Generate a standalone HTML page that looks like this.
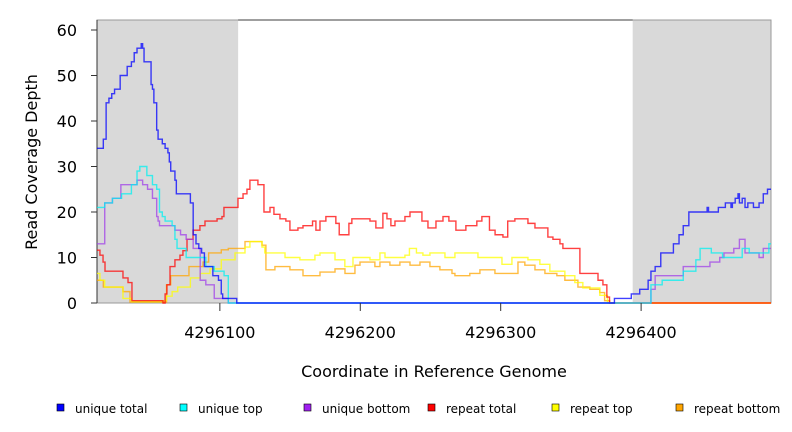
<!DOCTYPE html>
<html><head><meta charset="utf-8"><style>
body{margin:0;background:#fff;font-family:"Liberation Sans","DejaVu Sans",sans-serif}
svg{display:block}
</style></head><body>
<svg id="chart" width="792" height="432" viewBox="0 0 792 432" xmlns="http://www.w3.org/2000/svg" font-family="DejaVu Sans, Liberation Sans, sans-serif">
</svg>
<script>
const xTicks=[4296100,4296200,4296300,4296400];
const yTicks=[0,10,20,30,40,50,60];
const shadeLeft=[4296012.5,4296113];
const shadeRight=[4296394,4296492.5];
const B=4296000;
const utPos=[12.5,17,19,21,23,25,29,34,37,39,41,44,45,46,51,52,53,55,56,59,61,63,64,65,68,69,79,81,83,85,87,89,95,99,101,102,112,381,393,399,405,407,410,414,423,427,430,434,447,448,455,460,464,465,467,469,470,472,474,476,480,484,487,490];
const utVal=[34,36,44,45,46,47,50,52,53,55,56,57,56,53,48,47,44,38,36,35,34,33,31,29,27,24,22,15,13,12,11,8,6,5,2,1,0,1,2,3,5,7,8,11,13,15,17,20,21,20,21,22,21,22,23,24,22,23,21,22,21,22,24,25];
const ucPos=[12.5,18,23.5,30,37,41,43,48,52,55,57,59,61,66,68,69.5,76,90,96,103,106,407,415,430,439,442,450,458,472,477,491];
const ucVal=[21,22,23,24,26,29,30,28,26,25,20,19,18,17,14,12,10,8,7,6,0,4,5,7,9.5,12,11,10,12,11,13];
const ubPos=[12.5,18,23.5,29.5,41,45,48.5,52,55,56,57,68,72,76,81,86,90,96,106,407,410,430,449,456,459,466,470,474,484,487];
const ubVal=[13,22,23,26,27,26,25,23,19,18,17,16,15,14,12,5,4,1,0,3,6,8,9,10,11,12,14,11,10,12];
const rtPos=[12.5,14.6,16.8,18.2,31,34.6,37.4,59.5,61,62.3,64.5,68,71.6,73.7,76.6,80.9,85.8,89.4,98,101.5,102.9,112.9,116.5,119.3,121.4,127.1,131.4,135.7,138.5,142.8,147,149.9,155.6,159.2,166,168.4,171.3,175.5,182.6,185,191.9,194,206.9,211.1,216.1,219,221.8,224.7,231.8,235.4,243.9,248.2,253.9,258.9,263.1,268.1,275.2,283,286.6,292,296,301.6,305,310.1,319.4,324.4,333.6,337.2,342.2,344.3,356.4,369.3,372.8,375.6,377.5];
const rtVal=[11.6,10.5,9,7,5.5,4.5,0.5,0,2,4,8,9.5,10.5,11.5,14,16,17,18,18.5,19,21,23,24,25,27,26,20,21,19.5,18.5,18,16,16.5,17,18,16,18,19,17.5,15,17.5,18.5,18,16.5,19.7,18.5,17,18,19,20,18,16.5,18,19,18,16,17,18,19,16,15,14.5,18,18.5,17.5,16.5,14.5,14,13,12,6.5,5,4,1.3,0];
const ytPos=[12.5,14.6,18,31,37,58,62,66,70,79,86,93,101,110.8,117.9,121.4,130,132,146.4,157,167.7,171.3,182,189,194.8,206.9,214,217.6,231.8,235,240,244.6,249.6,260.3,267.4,283.8,300.9,308,319.4,327.9,335,345.7,352.8,358.5,370.6,376];
const ytVal=[6.5,5,3.5,1,0.3,0.5,1.5,2.5,3.5,5.5,6.5,7.5,9.5,11,12.3,13.5,12.3,11,10,9.5,10.5,11,9.5,8,10,9.5,11,10,10.5,12,11,10.5,11,10,11,10,8.5,10,9.5,8.5,7,6,4.5,3.3,1.7,0];
const rbPos=[12.5,17,31,36,62,65,78,88,92,101,106,117.9,130,132.8,139.2,149.9,159.2,171.3,182,189.1,196.2,199.8,210.4,214,221.1,228.2,235.4,242.5,249.6,256.7,265.3,267.4,278,285.2,295.9,312.3,317.2,324.4,331.5,340,345.7,355,363.5,370.6,374,377.6];
const rbVal=[5,3.5,2.5,0.2,4,6,8,9,11,11.7,12,13.5,12.7,7.3,8,7.3,6,6.8,7.5,6.5,8.3,9,8,9,8.3,9,8.3,9,8,7.3,6.5,6,6.5,7.3,6.5,9,8.3,7.3,6.5,6,5,3.5,3,2.3,0.5,0];

const L=97,R=771,T=20,Bt=303;
const xMin=4296012.5,xMax=4296492.5;
const X=v=>L+(v-xMin)/(xMax-xMin)*(R-L);
const Y=v=>Bt-v*(Bt-30)/60;
const NS='http://www.w3.org/2000/svg';
const svg=document.getElementById('chart');
function mk(tag,attrs,parent){const e=document.createElementNS(NS,tag);for(const k in attrs)e.setAttribute(k,attrs[k]);(parent||svg).appendChild(e);return e;}

const plot=mk('g',{});


const s1=mk('rect',{x:X(shadeLeft[0]),y:T,width:X(shadeLeft[1])-X(shadeLeft[0]),height:Bt-T,fill:'#d9d9d9'},plot);


const s2=mk('rect',{x:X(shadeRight[0]),y:T,width:X(shadeRight[1])-X(shadeRight[0]),height:Bt-T,fill:'#d9d9d9'},plot);


const fr=mk('rect',{x:L,y:T,width:R-L,height:Bt-T,fill:'none',stroke:'#999','stroke-width':1},plot);


mk('line',{x1:X(shadeLeft[1]),x2:X(shadeRight[0]),y1:T,y2:T,stroke:'#666','stroke-width':1.2},plot);
mk('line',{x1:L,x2:L,y1:T,y2:Bt,stroke:'#333','stroke-width':1},plot);

function stepPath(pos,val){
  let d='';
  for(let i=0;i<pos.length;i++){
    const x=X(B+pos[i]),y=Y(val[i]);
    if(i===0)d+='M'+x+','+y;else d+='H'+x+'V'+y;
  }
  d+='H'+R;
  return d;
}
const series=[
 ['repeat-bottom-line',rbPos,rbVal,'#ffa500'],
 ['repeat-top-line',ytPos,ytVal,'#ffff00'],
 ['repeat-total-line',rtPos,rtVal,'#ff0000'],
 ['unique-bottom-line',ubPos,ubVal,'#a040e8'],
 ['unique-top-line',ucPos,ucVal,'#00f0f0'],
 ['unique-total-line',utPos,utVal,'#0000ff']
];
series.forEach(s=>{
  const p=mk('path',{d:stepPath(s[1],s[2]),fill:'none',stroke:s[3],'stroke-width':1.4,'stroke-opacity':0.75},plot);
  
  
});

yTicks.forEach(v=>{
  mk('line',{x1:L-6,x2:L,y1:Y(v),y2:Y(v),stroke:'#333'});
  const t=mk('text',{x:L-20,y:Y(v)+6,'text-anchor':'end','font-size':16,fill:'#000'});
  t.textContent=v;
  
  
});
xTicks.forEach(v=>{
  mk('line',{x1:X(v),x2:X(v),y1:Bt,y2:Bt+8,stroke:'#333'});
  const t=mk('text',{x:X(v),y:Bt+35,'text-anchor':'middle','font-size':16,fill:'#000'});
  t.textContent=v;
  
  
});
const xt=mk('text',{x:434,y:377,'text-anchor':'middle','font-size':16,fill:'#000'});
xt.textContent='Coordinate in Reference Genome';


const yt=mk('text',{x:0,y:0,'text-anchor':'middle','font-size':16,fill:'#000',transform:'translate(37,162) rotate(-90)'});
yt.textContent='Read Coverage Depth';



const legNames=['unique total','unique top','unique bottom','repeat total','repeat top','repeat bottom'];
const legColors=['#0000ff','#00ffff','#a020f0','#ff0000','#ffff00','#ffa500'];
const legX=[57,180,304,428,552,676];
legNames.forEach((n,i)=>{
  const g=mk('g',{});
  
  
  mk('rect',{x:legX[i],y:404,width:7,height:7,fill:legColors[i],stroke:'#000','stroke-width':0.6},g);
  const t=mk('text',{x:legX[i]+18,y:413,'font-size':12,fill:'#000'},g);
  t.textContent=n;
});
</script>
</body></html>
